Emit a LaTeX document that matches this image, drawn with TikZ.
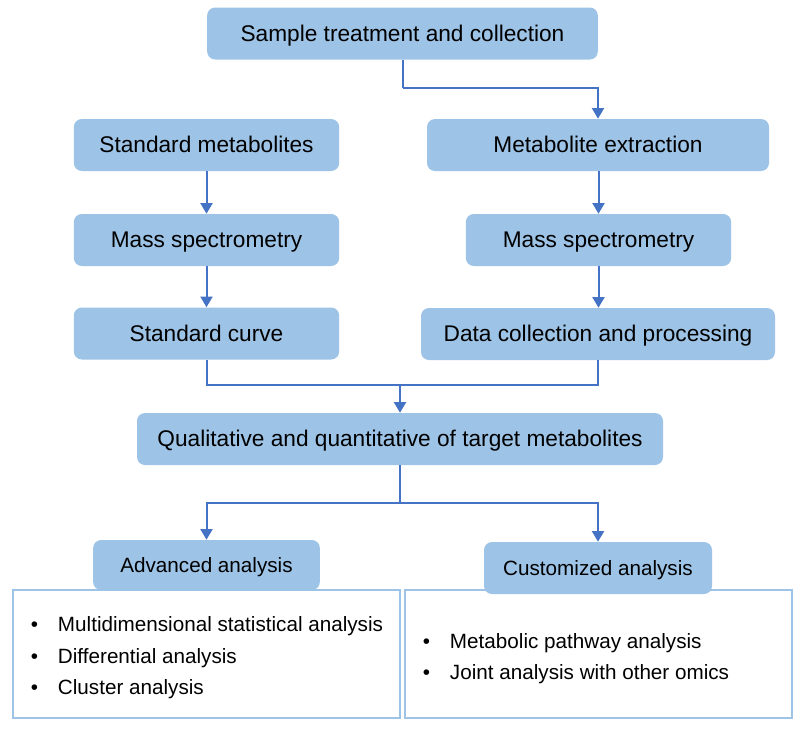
\documentclass[tikz,border=0pt]{standalone}
\usepackage{fontspec}
\setmainfont{Liberation Sans}
\usepackage{tikz}
\usetikzlibrary{positioning,arrows.meta}
\definecolor{boxblue}{HTML}{9DC3E6}
\definecolor{lineblue}{HTML}{4472C4}
\tikzset{
	stepbox/.style={rectangle,rounded corners=6pt,fill=boxblue,minimum height=39pt,
		font=\fontsize{17}{20}\selectfont, text centered, inner sep=0pt,
		text height=13.5pt, text depth=1.8pt},
	smallbox/.style={stepbox,font=\fontsize{15.5}{18}\selectfont,text height=12.5pt,text depth=1.3pt},
	listbox/.style={rectangle,draw=boxblue,line width=1.5pt,minimum width=290pt,minimum height=96pt},
	listtext/.style={font=\fontsize{15.5}{18}\selectfont,inner sep=0pt},
	edge/.style={color=lineblue, line width=1.5pt},
	diredge/.style={-{Triangle[width=9pt,length=8pt]},color=lineblue, line width=1.5pt}
}
\newcommand{\itemlist}[1]{\begin{tabular}{@{}l@{\hspace{15pt}}l@{}}#1\end{tabular}}

\begin{document}
\begin{tikzpicture}[x=0.75pt,y=-0.75pt]
	\useasboundingbox (0,0) rectangle (805,733);

	%%top
	\node[stepbox,minimum width=293pt] (sample) at (402.5,33.5) {Sample treatment and collection};

	%%left column
	\node[stepbox,minimum width=199pt] (stdmet) at (206.5,145) {Standard metabolites};
	\node[stepbox,minimum width=199pt] (msleft) at (206.5,240) {Mass spectrometry};
	\node[stepbox,minimum width=199pt] (stdcurve) at (206.5,333.5) {Standard curve};

	%%right column
	\node[stepbox,minimum width=256.5pt] (extract) at (598,145) {Metabolite extraction};
	\node[stepbox,minimum width=199pt] (msright) at (598.5,240) {Mass spectrometry};
	\node[stepbox,minimum width=265.5pt] (datacoll) at (598,334) {Data collection and processing};

	%%merged result
	\node[stepbox,minimum width=394.5pt] (qual) at (400,439) {Qualitative and quantitative of target metabolites};

	%%analysis lists
	\node[listbox] (advlist) at (206.5,654) {};
	\node[listbox] (custlist) at (598.5,654) {};
	\node[listtext,anchor=west] (advitems) at (30.5,658.5) {\itemlist{%
		\textbullet & Multidimensional statistical analysis\\[5.6pt]
		\textbullet & Differential analysis\\[5.6pt]
		\textbullet & Cluster analysis}};
	\node[listtext,anchor=west] (custitems) at (422.5,659) {\itemlist{%
		\textbullet & Metabolic pathway analysis\\[5.6pt]
		\textbullet & Joint analysis with other omics}};
	\node[smallbox,minimum width=170pt,minimum height=37.5pt] (adv) at (206.5,565) {Advanced analysis};
	\node[smallbox,minimum width=171pt] (cust) at (598,568) {Customized analysis};

	%%%%%% EDGES
	\coordinate (split1) at (402.5,88);
	\coordinate (merge) at (400,385);
	\coordinate (split2) at (400,503);

	%top to extraction
	\draw[edge] (sample.south) -- (split1);
	\draw[diredge] (split1) -| (extract.north);
	%left column
	\draw[diredge] (stdmet) -- (msleft);
	\draw[diredge] (msleft) -- (stdcurve);
	%right column
	\draw[diredge] (extract.south -| msright.north) -- (msright);
	\draw[diredge] (msright) -- (datacoll.north -| msright.north);
	%merge
	\draw[edge] (stdcurve.south) |- (merge) -| (datacoll.south);
	\draw[diredge] (merge) -- (qual.north);
	%split to analyses
	\draw[edge] (qual.south) -- (split2);
	\draw[diredge] (split2) -| (adv.north);
	\draw[diredge] (split2) -| (cust.north);

\end{tikzpicture}
\end{document}
